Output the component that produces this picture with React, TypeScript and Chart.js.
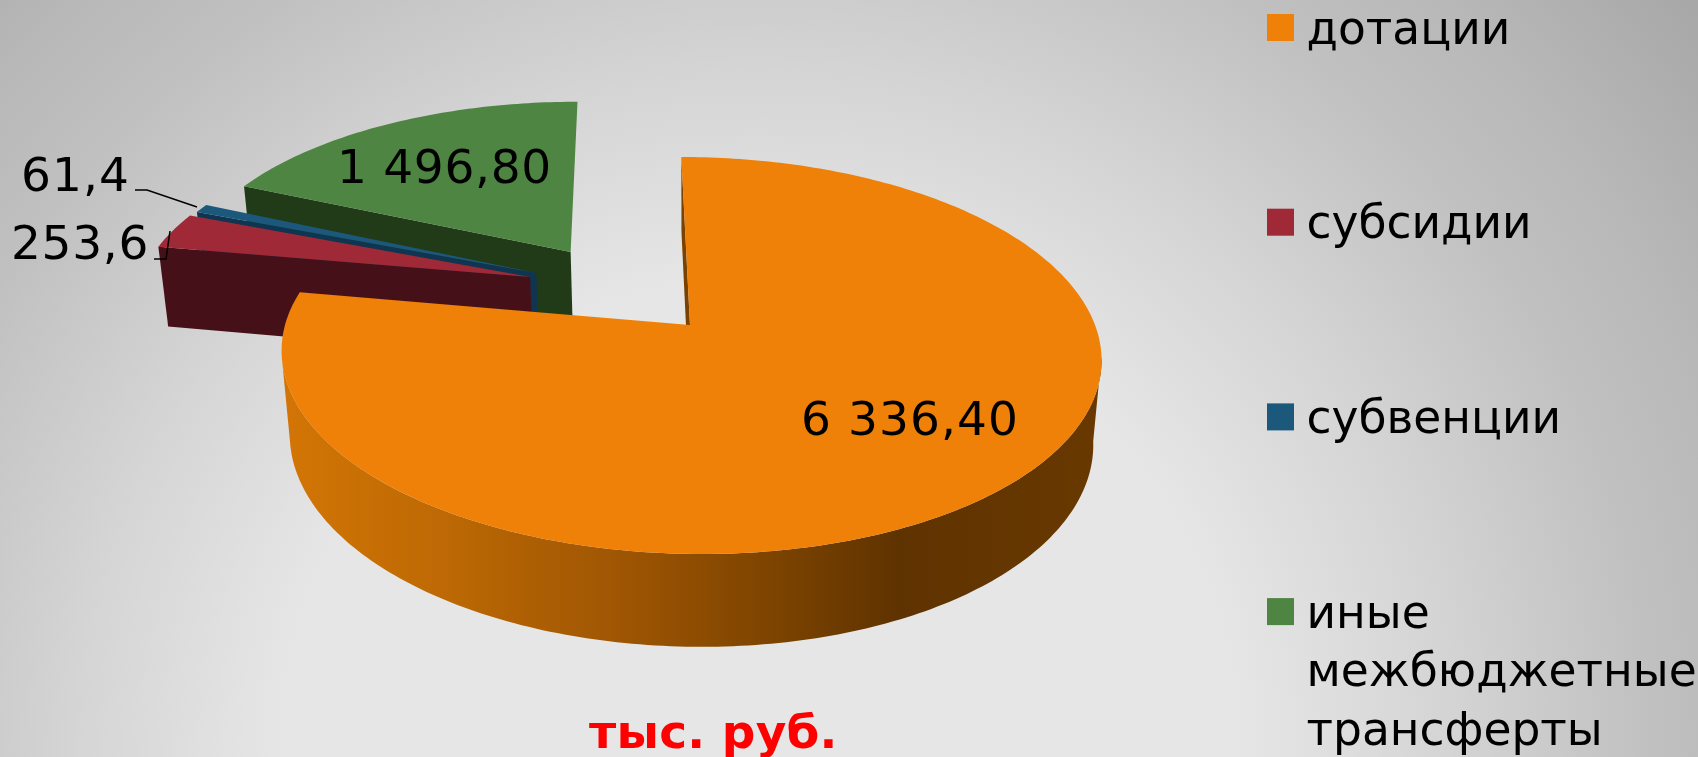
import React, { useEffect, useRef } from "react";
import { Chart, registerables } from "chart.js";

Chart.register(...registerables);

const categories = ["дотации", "субсидии", "субвенции", "иные межбюджетные трансферты"];
const legendLines = [["дотации"], ["субсидии"], ["субвенции"], ["иные", "межбюджетные", "трансферты"]];
const values = [6336.4, 253.6, 61.4, 1496.8];
const valueLabels = ["6 336,40", "253,6", "61,4", "1 496,80"];
const topColors = ["#ef8008", "#9f2936", "#1b587c", "#4e8542"];
const wallColors = ["#7a4200", "#461019", "#0f3550", "#213a18"];
const unitLabel = "тыс. руб.";

// how far each slice is pulled out of the pie, in units of the pie radius
const pullU = [0, -0.404, -0.389, -0.303];
const pullV = [0, 0.258, 0.28, 0.4];

const W = 1698;
const H = 757;
const FONT = '"DejaVu Sans"';

// camera
const X0 = 690, Y0 = 325, A = 405, B = 193.8, LEAN = -10, P = 0.1537, Q = 0.02, D = 85;
function project(u: number, v: number, z: number): [number, number] {
  const w = 1 + P * v + Q * z;
  return [X0 + (A * u + LEAN * v) / w, Y0 + (-B * v + D * z) / w];
}

function tracePath(ctx: CanvasRenderingContext2D, pts: [number, number][]) {
  ctx.beginPath();
  pts.forEach((p, i) => (i ? ctx.lineTo(p[0], p[1]) : ctx.moveTo(p[0], p[1])));
  ctx.closePath();
}

const pie3d = {
  id: "pie3d",
  beforeDatasetsDraw(chart: any) {
    const ctx: CanvasRenderingContext2D = chart.ctx;
    const arcs = chart.getDatasetMeta(0).data;
    for (const i of [3, 2, 1, 0]) {
      const arc = arcs[i];
      const a0 = arc.startAngle + Math.PI / 2;
      const a1 = arc.endAngle + Math.PI / 2;
      const n = Math.max(4, Math.ceil((a1 - a0) * 60));
      const angles: number[] = [];
      for (let k = 0; k <= n; k++) angles.push(a0 + ((a1 - a0) * k) / n);
      const rim = angles.map((t) => [pullU[i] + Math.sin(t), pullV[i] + Math.cos(t)]);
      const top = rim.map((p) => project(p[0], p[1], 0));
      const bottom = rim.map((p) => project(p[0], p[1], 1));
      const cTop = project(pullU[i], pullV[i], 0);
      const cBot = project(pullU[i], pullV[i], 1);

      ctx.save();
      ctx.fillStyle = wallColors[i];
      // the cut face that looks towards the viewer
      tracePath(ctx, [cTop, top[0], bottom[0], cBot]);
      ctx.fill();

      // outer wall: only the stretch of rim that faces the camera
      let paint: any = wallColors[i];
      if (i === 0) {
        const g = ctx.createLinearGradient(286, 0, 1090, 0);
        g.addColorStop(0, "#d27505");
        g.addColorStop(0.18, "#bf6a04");
        g.addColorStop(0.42, "#9e5503");
        g.addColorStop(0.62, "#7a4200");
        g.addColorStop(0.76, "#5f3300");
        g.addColorStop(1, "#683800");
        paint = g;
      }
      ctx.fillStyle = paint;
      const faces = (k: number) => {
        const t = angles[k];
        return -rim[k][0] * Math.sin(t) + (-1 / P - rim[k][1]) * Math.cos(t) > 0;
      };
      let k = 0;
      while (k <= n) {
        if (!faces(k)) { k++; continue; }
        const from = k;
        while (k <= n && faces(k)) k++;
        const to = k - 1;
        if (to > from) {
          tracePath(ctx, [...top.slice(from, to + 1), ...bottom.slice(from, to + 1).reverse()]);
          ctx.fill();
        }
      }

      // top face
      ctx.fillStyle = topColors[i];
      tracePath(ctx, [cTop, ...top]);
      ctx.fill();
      ctx.restore();
    }
    return false;
  },
  afterDraw(chart: any) {
    const ctx: any = chart.ctx;
    ctx.save();
    ctx.fillStyle = "#000";
    ctx.textBaseline = "alphabetic";
    ctx.textAlign = "left";

    // value labels
    ctx.font = `47px ${FONT}`;
    const labelAt: [number, number][] = [[801, 435], [11, 259], [21, 191], [337, 183]];
    const spacing = [1.1, 0.7, 1.1, 0.7];
    valueLabels.forEach((t, i) => {
      ctx.letterSpacing = `${spacing[i]}px`;
      ctx.fillText(t, labelAt[i][0], labelAt[i][1]);
    });
    ctx.letterSpacing = "0px";

    // leader lines
    ctx.strokeStyle = "#000";
    ctx.lineWidth = 1.5;
    ctx.beginPath();
    ctx.moveTo(135, 190); ctx.lineTo(147, 190); ctx.lineTo(197, 207);
    ctx.moveTo(154, 259); ctx.lineTo(166, 259); ctx.lineTo(170, 231);
    ctx.stroke();

    // legend
    ctx.font = `45.5px ${FONT}`;
    legendLines.forEach((lines, i) => {
      const y = 14 + i * 194.7;
      ctx.fillStyle = topColors[i];
      ctx.fillRect(1267, y, 27, 27);
      ctx.fillStyle = "#000";
      lines.forEach((line, j) => ctx.fillText(line, 1306.5, y + 29.5 + j * 58.5));
    });

    // unit caption
    ctx.fillStyle = "#ff0000";
    ctx.font = `bold 47px ${FONT}`;
    ctx.letterSpacing = "0.2px";
    ctx.fillText(unitLabel, 589, 748);
    ctx.restore();
  },
};

export default function App() {
  const ref = useRef<HTMLCanvasElement>(null);
  useEffect(() => {
    const chart = new Chart(ref.current!, {
      type: "pie",
      data: {
        labels: categories,
        datasets: [{ data: values, backgroundColor: topColors, borderWidth: 0 }],
      },
      options: {
        responsive: false,
        animation: false,
        plugins: { legend: { display: false }, tooltip: { enabled: false }, title: { display: false } },
      },
      plugins: [pie3d],
    } as any);
    return () => chart.destroy();
  }, []);
  return (
    <div
      style={{
        position: "fixed",
        left: 0,
        top: 0,
        width: W,
        height: H,
        overflow: "hidden",
        background:
          "radial-gradient(circle 1195px at 760px 757px, #e6e6e6 0%, #e6e6e6 40%, #d5d5d5 57%, #c0c0c0 75%, #b8b8b8 85%, #a8a8a8 100%)",
      }}
    >
      <canvas ref={ref} width={W} height={H} style={{ display: "block" }} />
    </div>
  );
}
